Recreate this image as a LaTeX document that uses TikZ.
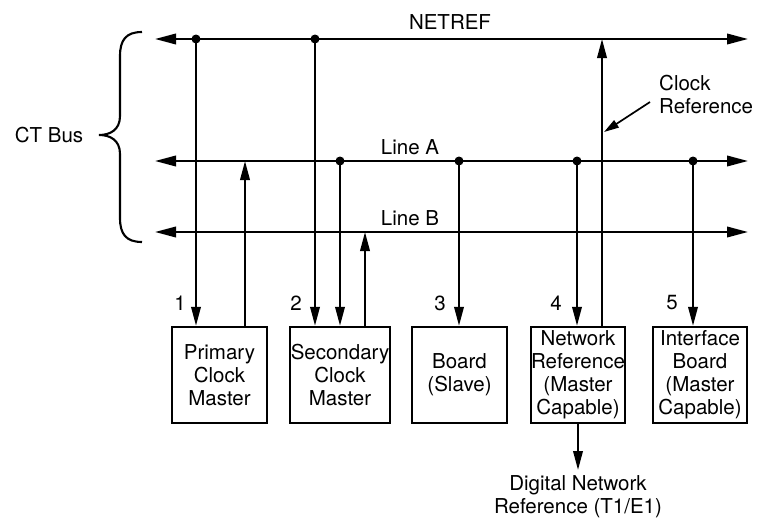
\documentclass[tikz,border=0pt]{standalone}
\usepackage{fontspec}
\setmainfont{TeX Gyre Heros}
\usetikzlibrary{arrows.meta}
\newcommand\dgfont{\fontsize{20.5}{23}\selectfont}
\begin{document}
\begin{tikzpicture}[x=1pt,y=-1pt,
  ln/.style={line width=2.1pt},
  tip/.style={-{Triangle[length=19pt,width=9.5pt]}},
  bus/.style={{Triangle[length=21pt,width=10.5pt]}-{Triangle[length=21pt,width=10.5pt]}},
  box/.style={draw,line width=2.4pt,minimum height=96pt,inner sep=0pt,align=center,font=\dgfont},
  lbl/.style={font=\dgfont,inner sep=0pt},
  dot/.style={circle,fill,inner sep=0pt,minimum size=9pt}]
\useasboundingbox (0,0) rectangle (757,522);
% boxes
\node[box,minimum width=95pt] (b1) at (219.5,375) {Primary\\Clock\\Master};
\node[box,minimum width=100pt] (b2) at (340,375) {Secondary\\Clock\\Master};
\node[box,minimum width=95pt] (b3) at (459.5,375) {Board\\(Slave)};
\node[box,minimum width=94pt] (b4) at (578,375) {Network\\Reference\\(Master\\Capable)};
\node[box,minimum width=94pt] (b5) at (700,375) {Interface\\Board\\(Master\\Capable)};
% buses
\coordinate (nl) at (155,39); \coordinate (nr) at (748,39);
\coordinate (al) at (155,161); \coordinate (ar) at (748,161);
\coordinate (bl) at (155,232); \coordinate (br) at (748,232);
\draw[ln,bus] (nl) -- (nr);
\draw[ln,bus] (al) -- (ar);
\draw[ln,bus] (bl) -- (br);
\node[lbl] (tnet) at (450,22) {NETREF};
\node[lbl] (tla) at (410,147) {Line A};
\node[lbl] (tlb) at (410,218) {Line B};
% dots
\node[dot] (d1) at (196,39) {};
\node[dot] (d2) at (315,39) {};
\node[dot] (d3) at (340,161) {};
\node[dot] (d4) at (459,161) {};
\node[dot] (d5) at (577,161) {};
\node[dot] (d6) at (693,161) {};
% verticals
\draw[ln,tip] (d1.center) -- (d1.center |- b1.north);
\coordinate (u1) at (245,161);
\draw[ln,tip] (u1 |- b1.north) -- (u1);
\draw[ln,tip] (d2.center) -- (d2.center |- b2.north);
\draw[ln,tip] (d3.center) -- (d3.center |- b2.north);
\coordinate (u2) at (365,232);
\draw[ln,tip] (u2 |- b2.north) -- (u2);
\draw[ln,tip] (d4.center) -- (d4.center |- b3.north);
\draw[ln,tip] (d5.center) -- (d5.center |- b4.north);
\coordinate (u3) at (602,39);
\draw[ln,tip] (u3 |- b4.north) -- (u3);
\draw[ln,tip] (d6.center) -- (d6.center |- b5.north);
\coordinate (dn) at (578,470);
\draw[ln,tip] (b4.south) -- (dn);
\node[lbl,align=center] (tdn) at (578,497) {Digital Network\\Reference (T1/E1)};
% clock reference
\node[lbl,anchor=west,align=left] (ck) at (659,94) {Clock\\Reference};
\coordinate (cs) at (650,102); \coordinate (ct) at (604,132);
\draw[line width=1.7pt,-{Triangle[length=15pt,width=8.5pt]}] (cs) -- (ct);
% numbers
\node[lbl] (n1) at (180,303) {1};
\node[lbl] (n2) at (296,303) {2};
\node[lbl] (n3) at (440,303) {3};
\node[lbl] (n4) at (556,303) {4};
\node[lbl] (n5) at (672,303) {5};
% brace
\draw[ln] (142,32) .. controls (126,32) and (120,40) .. (120,56) -- (120,116)
  .. controls (120,130) and (110,135) .. (99,135)
  .. controls (110,135) and (120,140) .. (120,154) -- (120,218)
  .. controls (120,234) and (126,242) .. (142,242);
\node[lbl] (ctb) at (49,135) {CT Bus};
\end{tikzpicture}
\end{document}
